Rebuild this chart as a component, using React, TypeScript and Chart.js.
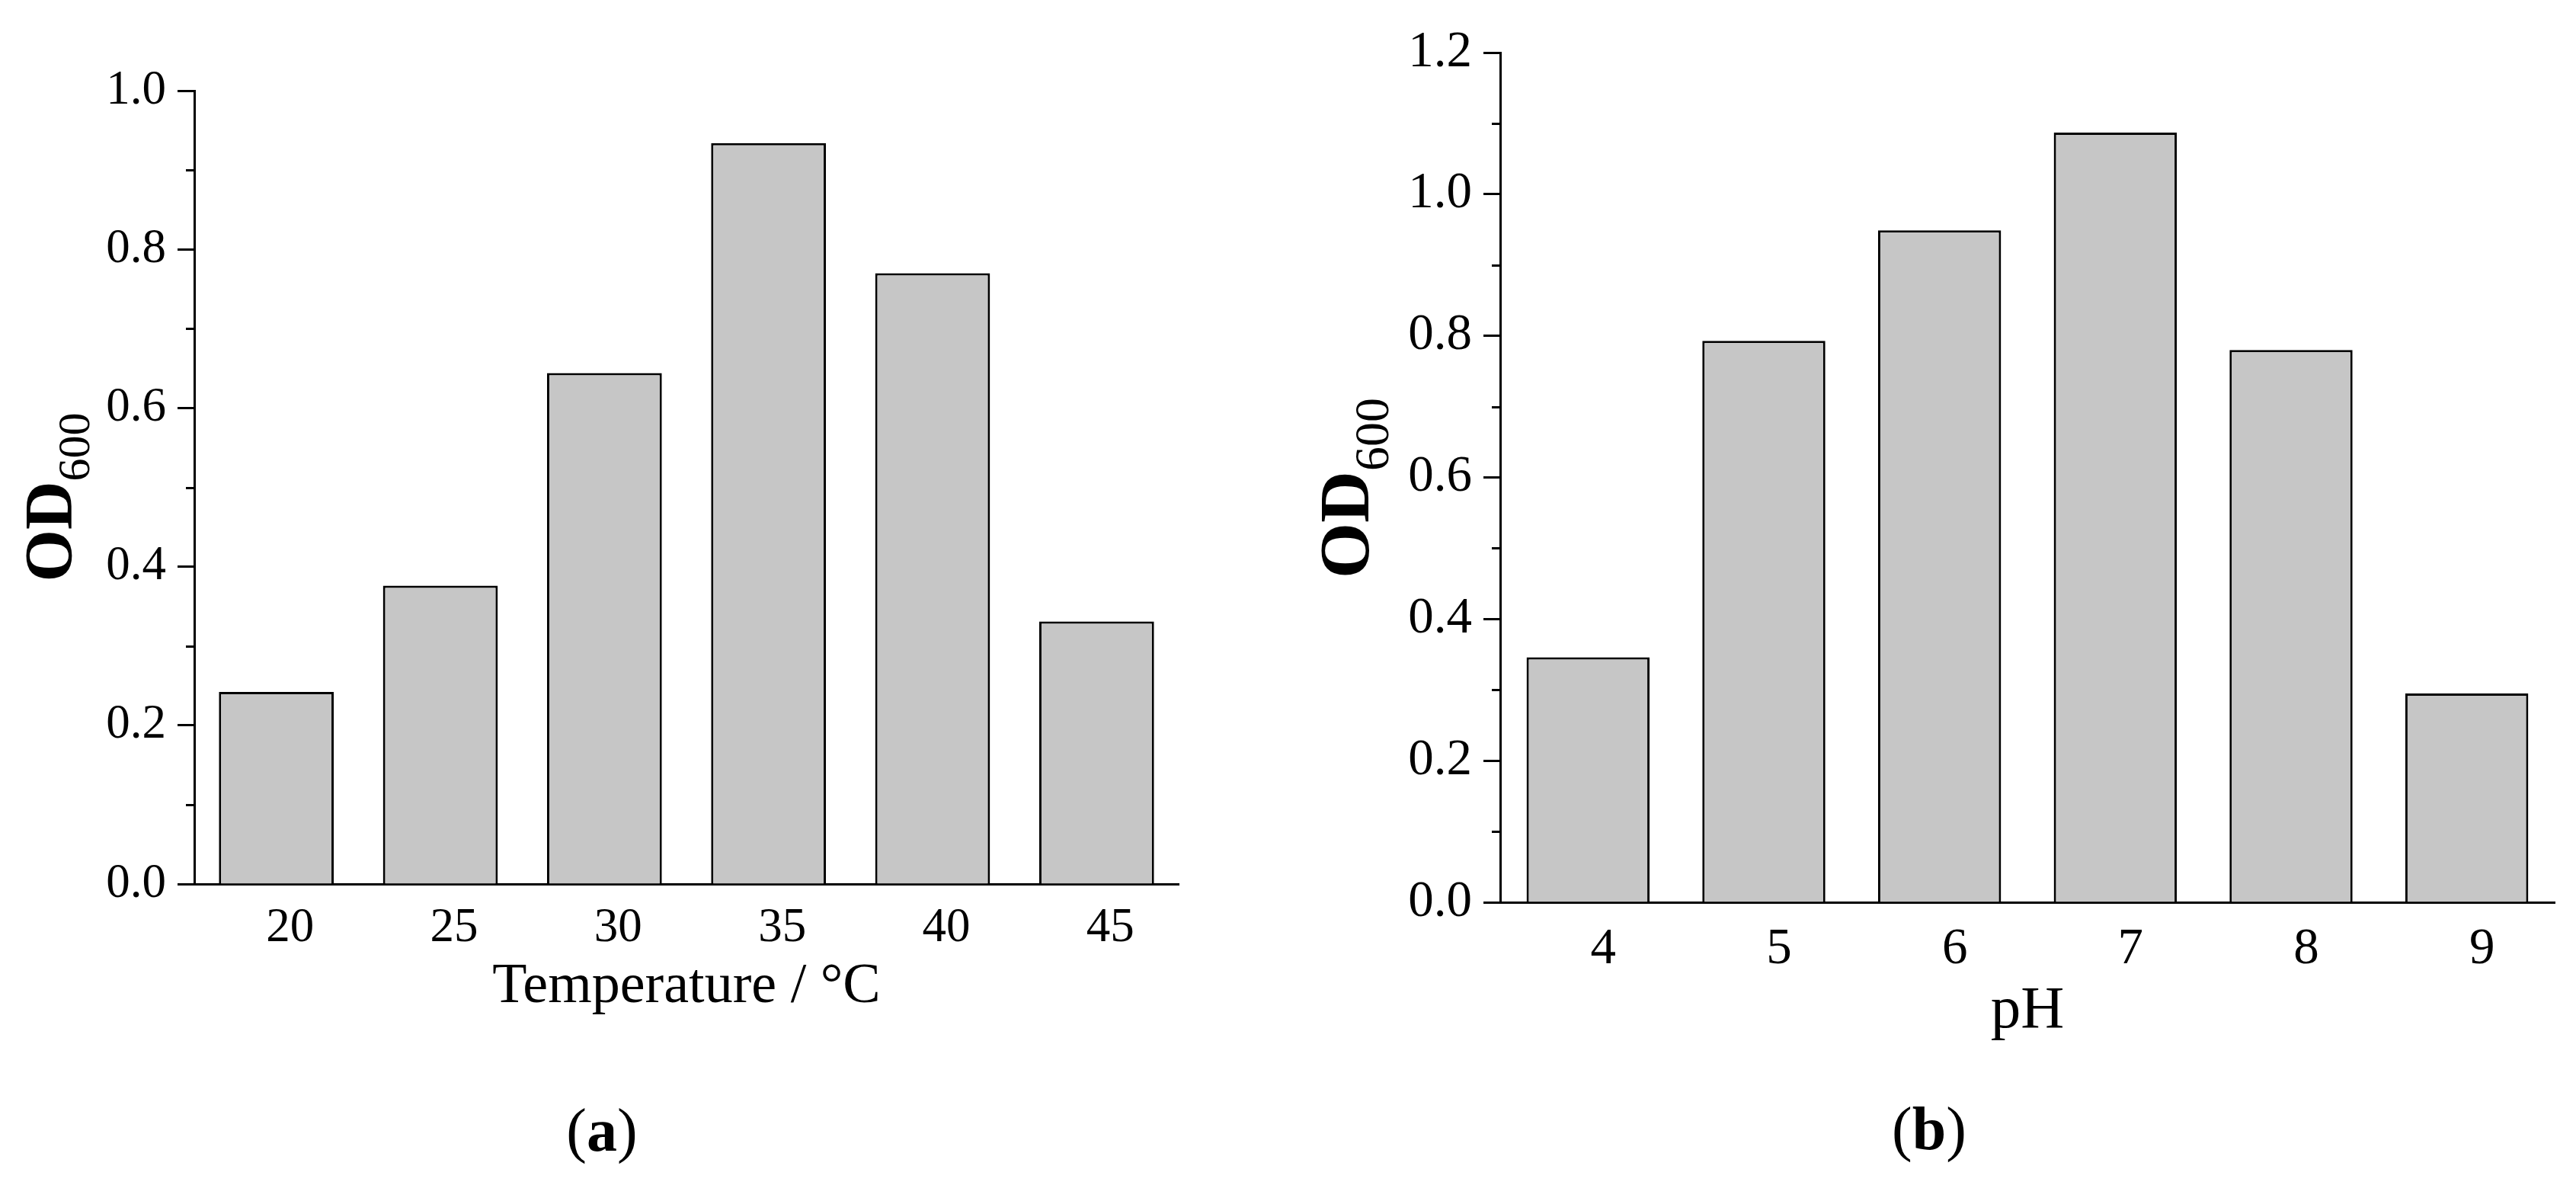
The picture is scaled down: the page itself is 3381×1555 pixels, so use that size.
import { useEffect, useRef } from "react";
import { Chart, registerables } from "chart.js";

Chart.register(...registerables);

// panel (a): growth vs temperature
const tempLabels = ["20", "25", "30", "35", "40", "45"];
const tempOD = [0.242, 0.376, 0.644, 0.934, 0.77, 0.331];
const tempMinorTicks = [0.1, 0.3, 0.5, 0.7, 0.9];

// panel (b): growth vs pH
const phLabels = ["4", "5", "6", "7", "8", "9"];
const phOD = [0.346, 0.793, 0.949, 1.087, 0.78, 0.295];
const phMinorTicks = [0.1, 0.3, 0.5, 0.7, 0.9, 1.1];

const SERIF = "'Liberation Serif', 'Times New Roman', serif";
const H = 1555;
const LINE = 3;

type Panel = {
  labels: string[];
  values: number[];
  minor: number[];
  yMax: number;
  xTitle: string;
  tag: string;
  pageLeft: number;
  width: number;
  plot: { left: number; top: number; right: number; bottom: number };
  tickSize: number;
  tickPad: number;
  labelOffset: number;
  xTitleSize: number;
  xTitleGap: number;
  odSize: number;
  subSize: number;
  odGap: number;
  odShift: number;
  tagX: number;
  tagBaseline: number;
};

const panels: Panel[] = [
  {
    labels: tempLabels,
    values: tempOD,
    minor: tempMinorTicks,
    yMax: 1.0,
    xTitle: "Temperature / °C",
    tag: "a",
    pageLeft: 0,
    width: 1640,
    plot: { left: 255, top: 119, right: 1547, bottom: 1160 },
    tickSize: 63,
    tickPad: 21,
    labelOffset: 18,
    xTitleSize: 74,
    xTitleGap: 155,
    odSize: 88,
    subSize: 60,
    odGap: 162,
    odShift: 13,
    tagX: 790,
    tagBaseline: 1510,
  },
  {
    labels: phLabels,
    values: phOD,
    minor: phMinorTicks,
    yMax: 1.2,
    xTitle: "pH",
    tag: "b",
    pageLeft: 1640,
    width: 1741,
    plot: { left: 329, top: 69, right: 1713, bottom: 1184 },
    tickSize: 67,
    tickPad: 22,
    labelOffset: 20,
    xTitleSize: 79,
    xTitleGap: 164,
    odSize: 94,
    subSize: 64,
    odGap: 173,
    odShift: 14,
    tagX: 892,
    tagBaseline: 1508,
  },
];

function decorations(p: Panel) {
  return {
    id: "decor-" + p.tag,
    afterDraw(chart: Chart) {
      const ctx = chart.ctx;
      const area = chart.chartArea;
      const y = chart.scales.y;
      ctx.save();
      ctx.fillStyle = "#000";
      ctx.strokeStyle = "#000";

      // minor ticks on the y axis
      ctx.lineWidth = LINE;
      for (const v of p.minor) {
        const py = Math.round(y.getPixelForValue(v)) + 0.5;
        ctx.beginPath();
        ctx.moveTo(area.left - 11, py);
        ctx.lineTo(area.left, py);
        ctx.stroke();
      }

      // x axis title
      ctx.font = `${p.xTitleSize}px ${SERIF}`;
      ctx.textAlign = "center";
      ctx.textBaseline = "alphabetic";
      ctx.fillText(p.xTitle, (area.left + area.right) / 2, area.bottom + p.xTitleGap);

      // y axis title: OD with subscript 600
      const odFont = `bold ${p.odSize}px ${SERIF}`;
      const subFont = `${p.subSize}px ${SERIF}`;
      ctx.font = odFont;
      const wOD = ctx.measureText("OD").width;
      ctx.font = subFont;
      const wSub = ctx.measureText("600").width;
      const cy = (area.top + area.bottom) / 2 + p.odShift;
      ctx.translate(area.left - p.odGap, cy + (wOD + wSub) / 2);
      ctx.rotate(-Math.PI / 2);
      ctx.textAlign = "left";
      ctx.font = odFont;
      ctx.fillText("OD", 0, 0);
      ctx.font = subFont;
      ctx.fillText("600", wOD, p.subSize * 0.4);
      ctx.restore();

      // panel tag, e.g. (a)
      ctx.save();
      ctx.fillStyle = "#000";
      ctx.textBaseline = "alphabetic";
      ctx.textAlign = "left";
      const reg = `80px ${SERIF}`;
      const bold = `bold 80px ${SERIF}`;
      ctx.font = reg;
      const wP = ctx.measureText("(").width;
      const wP2 = ctx.measureText(")").width;
      ctx.font = bold;
      const wT = ctx.measureText(p.tag).width;
      let x = p.tagX - (wP + wT + wP2) / 2;
      ctx.font = reg;
      ctx.fillText("(", x, p.tagBaseline);
      x += wP;
      ctx.font = bold;
      ctx.fillText(p.tag, x, p.tagBaseline);
      x += wT;
      ctx.font = reg;
      ctx.fillText(")", x, p.tagBaseline);
      ctx.restore();
    },
  };
}

function BarPanel({ p }: { p: Panel }) {
  const canvasRef = useRef<HTMLCanvasElement | null>(null);

  useEffect(() => {
    const canvas = canvasRef.current;
    if (!canvas) return;

    const chart = new Chart(canvas, {
      type: "bar",
      data: {
        labels: p.labels,
        datasets: [
          {
            data: p.values,
            backgroundColor: "#c6c6c6",
            borderColor: "#000",
            borderWidth: LINE,
            barPercentage: 0.7,
            categoryPercentage: 1,
          },
        ],
      },
      options: {
        responsive: false,
        animation: false,
        devicePixelRatio: 1,
        layout: {
          padding: { left: 0, top: p.plot.top, right: p.width - p.plot.right, bottom: 0 },
        },
        plugins: { legend: { display: false }, tooltip: { enabled: false } },
        scales: {
          x: {
            offset: true,
            grid: { display: false, drawTicks: false },
            border: { color: "#000", width: LINE },
            ticks: {
              color: "#000",
              font: { family: SERIF, size: p.tickSize },
              padding: p.tickPad,
              labelOffset: p.labelOffset,
              autoSkip: false,
              maxRotation: 0,
            },
            afterFit: (s: any) => {
              s.height = H - p.plot.bottom;
            },
          },
          y: {
            min: 0,
            max: p.yMax,
            ticks: {
              stepSize: 0.2,
              color: "#000",
              font: { family: SERIF, size: p.tickSize },
              padding: 15,
              callback: (v: any) => Number(v).toFixed(1),
            },
            grid: {
              drawOnChartArea: false,
              drawTicks: true,
              tickLength: 22,
              tickWidth: LINE,
              tickColor: "#000",
            },
            border: { color: "#000", width: LINE },
            afterFit: (s: any) => {
              s.width = p.plot.left;
            },
          },
        },
      },
      plugins: [decorations(p)],
    });

    return () => {
      chart.destroy();
    };
  }, [p]);

  return (
    <canvas
      ref={canvasRef}
      width={p.width}
      height={H}
      style={{ position: "absolute", left: p.pageLeft, top: 0, width: p.width, height: H }}
    />
  );
}

export default function App() {
  useEffect(() => {
    document.body.style.margin = "0";
  }, []);

  return (
    <div style={{ position: "absolute", left: 0, top: 0, width: 3381, height: H, background: "#fff", overflow: "hidden" }}>
      {panels.map((p) => (
        <BarPanel key={p.tag} p={p} />
      ))}
    </div>
  );
}
